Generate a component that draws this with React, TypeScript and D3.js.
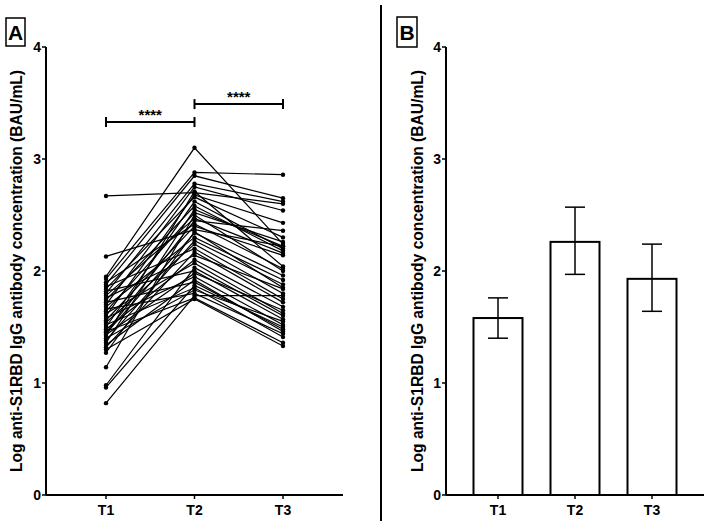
import React from "react";
import * as d3 from "d3";

const timepoints = ["T1", "T2", "T3"];
const yTicks = [0, 1, 2, 3, 4];

// Panel A: individual subjects (log values)
const t1Values = [2.67, 2.13, 1.95, 1.93, 1.90, 1.88, 1.86, 1.84, 1.82, 1.80, 1.78, 1.76, 1.74, 1.72, 1.70, 1.68, 1.66, 1.64, 1.62, 1.60, 1.58, 1.56, 1.54, 1.52, 1.50, 1.48, 1.46, 1.45, 1.44, 1.43, 1.42, 1.40, 1.38, 1.36, 1.34, 1.32, 1.30, 1.27, 1.14, 0.98, 0.96, 0.82];
const t2Values = [2.70, 2.37, 3.10, 2.88, 2.42, 2.85, 2.20, 2.66, 2.00, 2.78, 2.47, 2.14, 2.58, 1.90, 2.75, 2.30, 1.80, 2.52, 2.07, 2.68, 1.95, 2.40, 2.24, 1.85, 2.62, 2.10, 1.76, 2.45, 2.34, 1.98, 2.71, 1.83, 2.27, 2.55, 1.92, 2.17, 1.75, 2.35, 2.50, 2.03, 1.87, 1.78];
const t3Values = [2.60, 2.22, 2.24, 2.86, 2.02, 2.65, 1.75, 2.30, 1.57, 2.62, 2.16, 1.84, 2.18, 1.48, 2.54, 1.92, 1.44, 2.26, 1.62, 2.43, 1.52, 2.14, 1.80, 1.41, 2.20, 1.68, 1.36, 2.36, 1.96, 1.65, 2.04, 1.55, 1.88, 2.22, 1.46, 1.72, 1.33, 1.85, 2.00, 1.60, 1.50, 1.78];

// Panel B: means with error bars
const barMeans = [1.58, 2.26, 1.93];
const barLower = [1.40, 1.97, 1.64];
const barUpper = [1.76, 2.57, 2.24];

const significance = [
  { from: "T1", to: "T2", label: "****", level: 3.33 },
  { from: "T2", to: "T3", label: "****", level: 3.49 },
];

const yLabel = "Log anti-S1RBD IgG antibody concentration (BAU/mL)";
const font = "Arial, 'Liberation Sans', sans-serif";

function YAxis({ x, y }: { x: number; y: d3.ScaleLinear<number, number> }) {
  return (
    <g>
      <line x1={x} x2={x} y1={y(4)} y2={y(0)} stroke="#000" strokeWidth={2} />
      {yTicks.map((t) => (
        <g key={t}>
          <line x1={x - 4} x2={x} y1={y(t)} y2={y(t)} stroke="#000" strokeWidth={1.5} />
          <text x={x - 5} y={y(t)} dy="0.36em" textAnchor="end" fontSize={14} fontWeight="bold" fontFamily={font}>
            {t}
          </text>
        </g>
      ))}
    </g>
  );
}

function XAxis({ x, y0, x0, x1 }: { x: d3.ScalePoint<string>; y0: number; x0: number; x1: number }) {
  return (
    <g>
      <line x1={x0} x2={x1} y1={y0} y2={y0} stroke="#000" strokeWidth={2} />
      {timepoints.map((t) => (
        <g key={t}>
          <line x1={x(t)!} x2={x(t)!} y1={y0} y2={y0 + 4} stroke="#000" strokeWidth={1.5} />
          <text x={x(t)!} y={y0 + 20} textAnchor="middle" fontSize={14} fontWeight="bold" fontFamily={font}>
            {t}
          </text>
        </g>
      ))}
    </g>
  );
}

export default function App() {
  const yA = d3.scaleLinear().domain([0, 4]).range([495, 47]);
  const xA = d3.scalePoint<string>().domain(timepoints).range([106, 283]);
  const xB = d3.scalePoint<string>().domain(timepoints).range([498, 652]);
  const barW = 49;

  const subjects = t1Values.map((v, i) => [v, t2Values[i], t3Values[i]]);
  const line = d3
    .line<number>()
    .x((_, i) => xA(timepoints[i])!)
    .y((d) => yA(d));

  return (
    <svg
      width={711}
      height={527}
      style={{ position: "absolute", left: 0, top: 0, background: "#fff" }}
    >
      <rect width={711} height={527} fill="#fff" />
      {/* Panel A */}
      <rect x={6} y={18} width={19} height={28} fill="none" stroke="#000" strokeWidth={1.5} />
      <text x={15.5} y={39.5} textAnchor="middle" fontSize={21} fontWeight="bold" fontFamily={font}>A</text>
      <text
        transform={`translate(22,${(yA(0) + yA(4)) / 2}) rotate(-90)`}
        textAnchor="middle"
        fontSize={15.6}
        fontWeight="bold"
        fontFamily={font}
      >
        {yLabel}
      </text>
      <YAxis x={46} y={yA} />
      <XAxis x={xA} y0={yA(0)} x0={46} x1={343} />
      {subjects.map((s, i) => (
        <path key={i} d={line(s)!} fill="none" stroke="#000" strokeWidth={1.2} />
      ))}
      {subjects.map((s, i) =>
        s.map((v, j) => <circle key={`${i}-${j}`} cx={xA(timepoints[j])!} cy={yA(v)} r={2.2} fill="#000" />)
      )}
      {significance.map((s, i) => {
        const yy = yA(s.level);
        const a = xA(s.from)!;
        const b = xA(s.to)!;
        return (
          <g key={i}>
            <line x1={a} x2={b} y1={yy} y2={yy} stroke="#000" strokeWidth={2} />
            <line x1={a} x2={a} y1={yy - 5} y2={yy + 5} stroke="#000" strokeWidth={2} />
            <line x1={b} x2={b} y1={yy - 5} y2={yy + 5} stroke="#000" strokeWidth={2} />
            <text x={(a + b) / 2} y={yy - 2} textAnchor="middle" fontSize={15} fontWeight="bold" fontFamily={font}>
              {s.label}
            </text>
          </g>
        );
      })}

      {/* Divider */}
      <line x1={381} x2={381} y1={5} y2={521} stroke="#000" strokeWidth={2} />

      {/* Panel B */}
      <rect x={397} y={17} width={20} height={30} fill="none" stroke="#000" strokeWidth={1.5} />
      <text x={407} y={39.5} textAnchor="middle" fontSize={21} fontWeight="bold" fontFamily={font}>B</text>
      <text
        transform={`translate(423,${(yA(0) + yA(4)) / 2}) rotate(-90)`}
        textAnchor="middle"
        fontSize={15.6}
        fontWeight="bold"
        fontFamily={font}
      >
        {yLabel}
      </text>
      {timepoints.map((t, i) => {
        const cx = xB(t)!;
        return (
          <g key={t}>
            <rect
              x={cx - barW / 2}
              y={yA(barMeans[i])}
              width={barW}
              height={yA(0) - yA(barMeans[i])}
              fill="#fff"
              stroke="#000"
              strokeWidth={2}
            />
            <line x1={cx} x2={cx} y1={yA(barUpper[i])} y2={yA(barLower[i])} stroke="#000" strokeWidth={1.5} />
            <line x1={cx - 10} x2={cx + 10} y1={yA(barUpper[i])} y2={yA(barUpper[i])} stroke="#000" strokeWidth={1.5} />
            <line x1={cx - 10} x2={cx + 10} y1={yA(barLower[i])} y2={yA(barLower[i])} stroke="#000" strokeWidth={1.5} />
          </g>
        );
      })}
      <YAxis x={446} y={yA} />
      <XAxis x={xB} y0={yA(0)} x0={446} x1={704} />
    </svg>
  );
}
